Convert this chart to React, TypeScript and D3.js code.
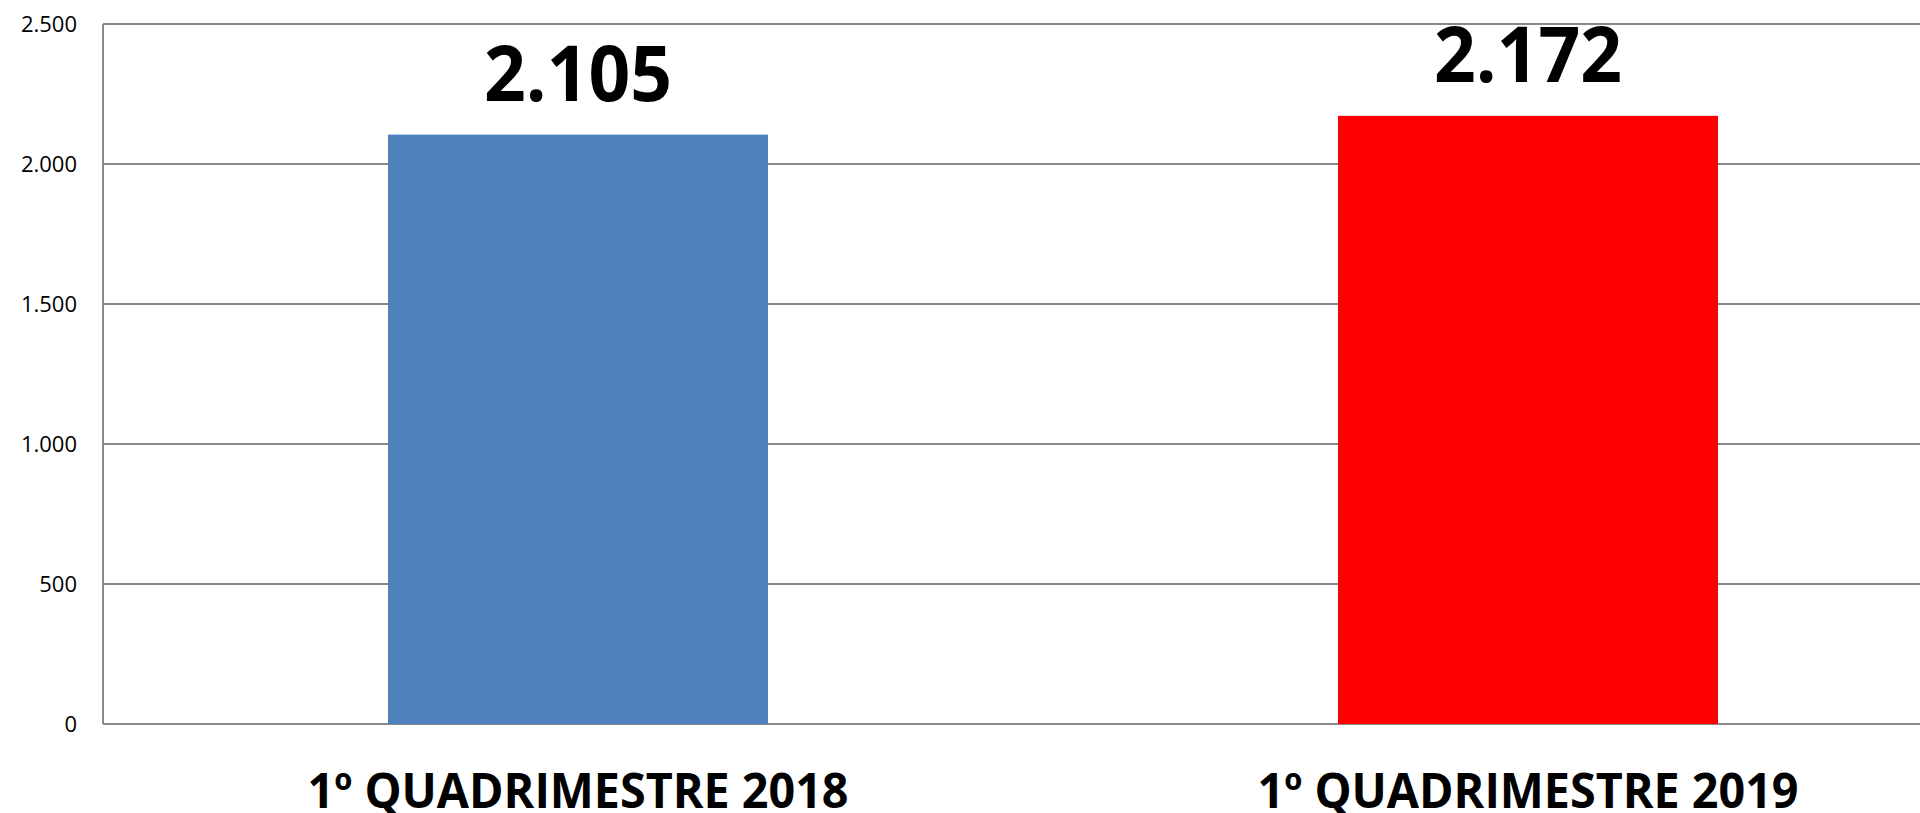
import React from "react";
import * as d3 from "d3";

const categories = ["1º QUADRIMESTRE 2018", "1º QUADRIMESTRE 2019"];
const values = [2105, 2172];
const barColors = ["#4F81BD", "#FF0000"];
const valueLabels = ["2.105", "2.172"];
const yTicks = [0, 500, 1000, 1500, 2000, 2500];
const yTickLabels = ["0", "500", "1.000", "1.500", "2.000", "2.500"];

const W = 1920;
const H = 813;
const plotLeft = 103;
const plotRight = 2003;
const plotTop = 24;
const plotBottom = 724;

export default function App() {
  const x = d3.scaleBand<string>().domain(categories).range([plotLeft, plotRight]).paddingInner(0.6).paddingOuter(0.3);
  const y = d3.scaleLinear().domain([0, 2500]).range([plotBottom, plotTop]);
  const font = "'Open Sans', 'Liberation Sans', sans-serif";
  return (
    <svg width={W} height={H} style={{ position: "absolute", left: 0, top: 0 }}>
      <rect x={0} y={0} width={W} height={H} fill="#fff" />
      {yTicks.map((t, i) => (
        <g key={t}>
          <line x1={plotLeft} x2={W} y1={y(t)} y2={y(t)} stroke="#898989" strokeWidth={2} />
          <text x={77} y={y(t)} dy="0.35em" textAnchor="end" fontFamily={font} fontSize={22} fill="#000">
            {yTickLabels[i]}
          </text>
        </g>
      ))}
      {categories.map((c, i) => (
        <g key={c}>
          <rect x={x(c)} y={y(values[i])} width={x.bandwidth()} height={plotBottom - y(values[i])} fill={barColors[i]} />
          <text x={(x(c) as number) + x.bandwidth() / 2} y={y(values[i]) - 34} textAnchor="middle" fontFamily={font} fontWeight="bold" fontSize={77} fill="#000" textLength={188} lengthAdjust="spacingAndGlyphs">
            {valueLabels[i]}
          </text>
          <text x={(x(c) as number) + x.bandwidth() / 2} y={808} textAnchor="middle" fontFamily={font} fontWeight="bold" fontSize={48} fill="#000" textLength={541} lengthAdjust="spacingAndGlyphs">
            {c}
          </text>
        </g>
      ))}
      <line x1={plotLeft} x2={plotLeft} y1={plotTop} y2={plotBottom} stroke="#898989" strokeWidth={2} />
    </svg>
  );
}
